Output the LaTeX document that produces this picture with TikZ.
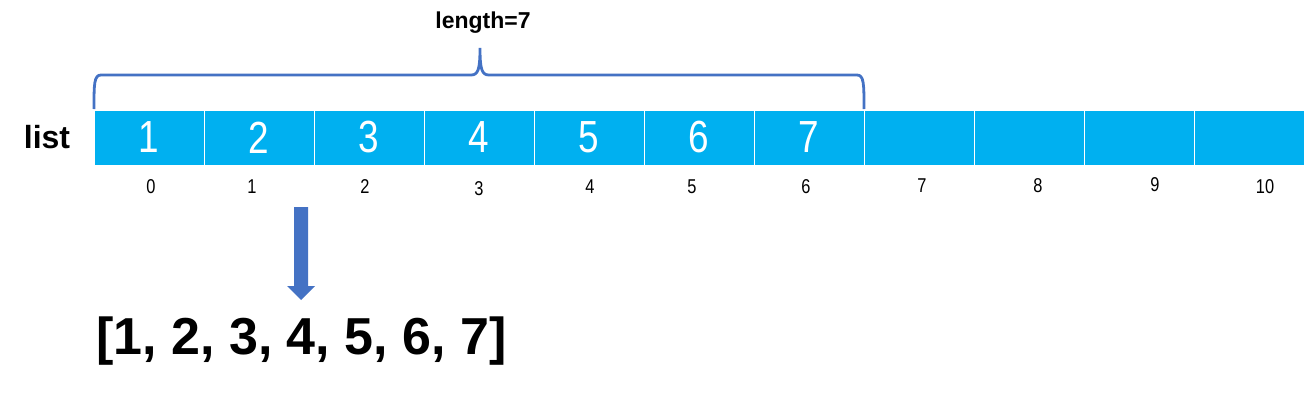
\documentclass[tikz,border=0pt]{standalone}
\usepackage{fontspec}
\setmainfont{Liberation Sans}
\newfontfamily\narrowfont[FakeStretch=0.82]{Liberation Sans}
\definecolor{cellblue}{HTML}{00B0F0}
\definecolor{accent}{HTML}{4472C4}
\begin{document}
\begin{tikzpicture}[x=1pt,y=-1pt,
  cellbox/.style={fill=cellblue,draw=white,line width=1pt,minimum width=110pt,minimum height=55pt,inner sep=0pt,outer sep=0pt,anchor=north west,text=white,font=\narrowfont\fontsize{45}{50}\selectfont},
  idxlabel/.style={font=\narrowfont\fontsize{20}{22}\selectfont,inner sep=0pt},
  bracepath/.style={draw=accent,line width=2.8pt},
  boldtext/.style={font=\bfseries,inner sep=0pt}]
\useasboundingbox (0,0) rectangle (1304,404);
% cells
\foreach \i/\v in {0/1,1/2,2/3,3/4,4/5,5/6,6/7,7/,8/,9/,10/}{
  \node[cellbox] (c\i) at ({94+110*\i},110) {\raisebox{-1pt}{\v}};
}
% index labels
\foreach \i/\x/\y in {0/151/187,1/252/187,2/365/187,3/479/189,4/590/187,5/692/187,6/806/187,7/922/186,8/1038/186,9/1155/185,10/1265/187}{
  \node[idxlabel] (i\i) at (\x,\y) {\i};
}
% list label
\node[boldtext,font=\bfseries\fontsize{32}{36}\selectfont] (lst) at (47,137) {list};
% brace
\coordinate (bl) at (94,109);
\coordinate (br) at (864,109);
\coordinate (bp) at (480,48);
\draw[bracepath] (bl) .. controls (94,84) and (94,75) .. (101,75) -- (471,75)
  .. controls (478,75) and (480,70) .. (bp)
  .. controls (480,70) and (482,75) .. (489,75) -- (857,75)
  .. controls (864,75) and (864,84) .. (br);
\node[boldtext,font=\bfseries\fontsize{23}{26}\selectfont] (len) at (483,23) {length=7};
% block arrow
\fill[accent] (294,207) -- (308,207) -- (308,286) -- (315,286) -- (301,300) -- (287,286) -- (294,286) -- cycle;
\coordinate (arrtop) at (301,207);
% result
\node[boldtext,font=\bfseries\fontsize{52}{58}\selectfont,anchor=west] (res) at (96,341) {[1, 2, 3, 4, 5, 6, 7]};
\end{tikzpicture}
\end{document}
